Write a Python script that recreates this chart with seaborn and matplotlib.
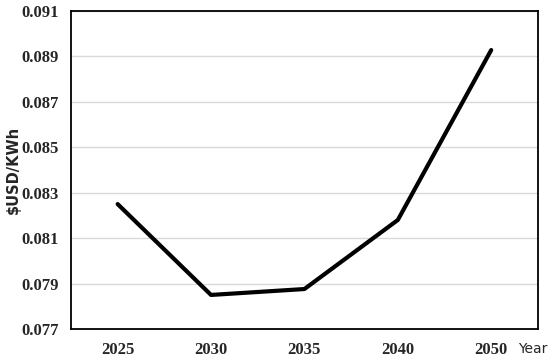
import matplotlib
matplotlib.use("Agg")
import matplotlib.pyplot as plt
import seaborn as sns
import pandas as pd

# data
years = ["2025", "2030", "2035", "2040", "2050"]
cost = [0.0825, 0.0785, 0.07876, 0.0818, 0.08928]
y_ticks = [0.077, 0.079, 0.081, 0.083, 0.085, 0.087, 0.089, 0.091]

df = pd.DataFrame({"year": years, "cost": cost})

sns.set_style("white")

fig = plt.figure(figsize=(5.5, 3.61), dpi=100)
ax = fig.add_axes([0.129, 0.0886, 0.849, 0.881])

sns.lineplot(data=df, x="year", y="cost", color="black", linewidth=3.0,
             sort=False, ax=ax)

ax.set_xlim(-0.5, len(years) - 0.5)
ax.set_ylim(y_ticks[0], y_ticks[-1])
ax.set_yticks(y_ticks)
ax.set_yticklabels([f"{t:.3f}" for t in y_ticks])

ax.yaxis.grid(True, color="#d9d9d9", linewidth=1.0)
ax.xaxis.grid(False)
ax.set_axisbelow(True)

for s in ax.spines.values():
    s.set_visible(True)
    s.set_color("black")
    s.set_linewidth(1.3)

ax.tick_params(axis="y", length=0, pad=9)
ax.tick_params(axis="x", length=0, pad=9)
for lab in ax.get_xticklabels() + ax.get_yticklabels():
    lab.set_fontfamily("Liberation Serif")
    lab.set_fontweight("bold")
    lab.set_fontsize(12)

ax.set_xlabel("")
ax.set_ylabel("$USD/KWh", fontsize=10.5, fontweight="bold", family="DejaVu Sans")
ax.yaxis.set_label_coords(-0.108, 0.5)
fig.text(0.968, 0.033, "Year", fontsize=10, family="DejaVu Sans",
         ha="center", va="center")

fig.savefig("out.png", dpi=100)
